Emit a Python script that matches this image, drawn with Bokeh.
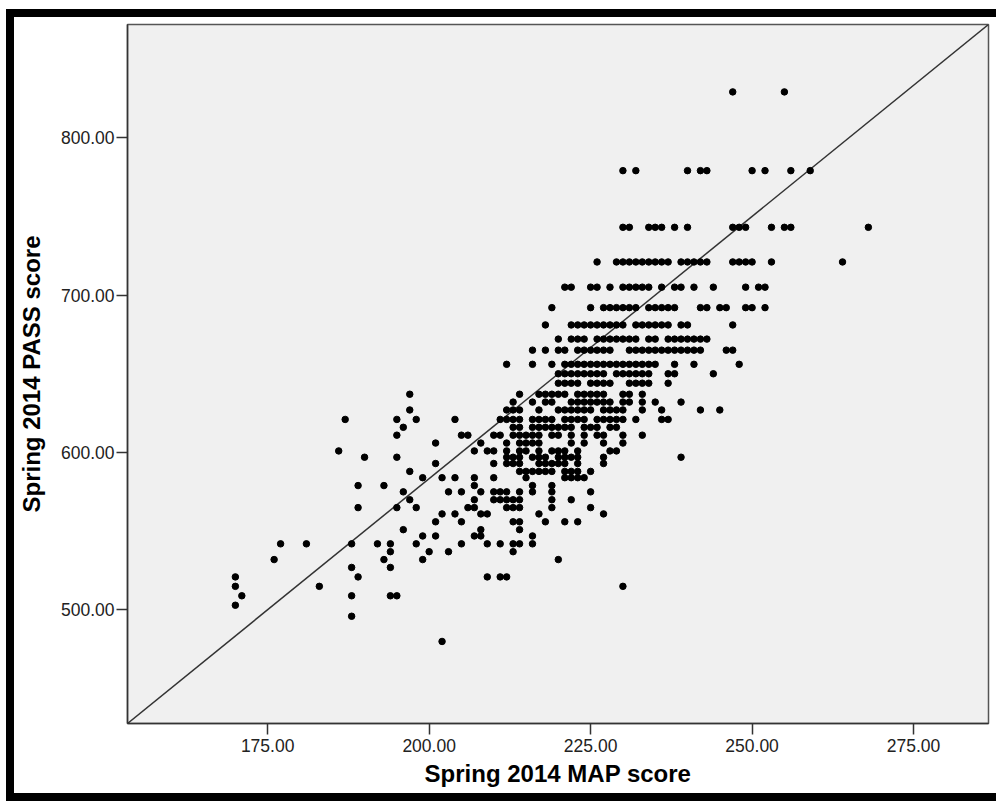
from bokeh.plotting import figure
from bokeh.models import FixedTicker, PrintfTickFormatter, Range1d
from bokeh.embed import file_html
from bokeh.resources import INLINE

# ---- data (MAP scores found at each discrete PASS score level) ----
x_title = "Spring 2014 MAP score"
y_title = "Spring 2014 PASS score"
x_ticks = [175, 200, 225, 250, 275]
y_ticks = [500, 600, 700, 800]
x_limits = [153.3, 286.6]
y_limits = [427.9, 871.8]

pass_levels = [829, 779, 743, 721, 705, 692, 681, 672, 665, 656, 650, 644, 637,
               632, 627, 621, 616, 611, 606, 601, 597, 593, 588, 584, 579, 575,
               570, 565, 561, 556, 551, 547, 542, 537, 532, 527, 521, 515, 509,
               503, 496, 480]

map_829 = [247, 255]
map_779 = [230, 232, 240, 242, 243, 250, 252, 256, 259]
map_743 = [230, 231, 234, 235, 236, 238, 240, 247, 248, 249, 253, 255, 256, 268]
map_721 = [226, 229, 230, 231, 232, 233, 234, 235, 236, 237, 239, 240, 241, 242,
           243, 247, 248, 249, 250, 253, 264]
map_705 = [221, 222, 225, 226, 228, 230, 231, 232, 233, 234, 236, 238, 239, 241,
           244, 249, 251, 252]
map_692 = [219, 225, 227, 228, 229, 230, 231, 232, 234, 235, 236, 237, 238, 242,
           243, 245, 246, 249, 250, 252]
map_681 = [218, 222, 223, 224, 225, 226, 227, 228, 229, 230, 232, 233, 234, 235,
           236, 237, 239, 240, 247]
map_672 = [220, 222, 223, 224, 226, 227, 228, 229, 230, 231, 232, 234, 235, 237,
           238, 239, 240, 241, 242, 243]
map_665 = [216, 218, 220, 221, 223, 224, 225, 226, 227, 228, 231, 232, 233, 234,
           235, 236, 237, 238, 239, 240, 241, 242, 246, 247]
map_656 = [212, 216, 219, 221, 222, 223, 224, 225, 226, 227, 228, 229, 230, 231,
           232, 233, 234, 235, 238, 241, 248]
map_650 = [220, 221, 222, 223, 224, 225, 226, 227, 229, 230, 231, 232, 233, 234,
           237, 238, 244]
map_644 = [220, 221, 222, 223, 225, 226, 227, 228, 231, 232, 233, 234, 237]
map_637 = [197, 214, 217, 218, 219, 220, 221, 223, 224, 225, 226, 227, 230, 231, 233]
map_632 = [213, 216, 218, 219, 222, 223, 224, 225, 226, 227, 228, 230, 231, 233,
           235, 239]
map_627 = [197, 212, 213, 214, 217, 220, 221, 222, 223, 224, 225, 227, 228, 229,
           230, 233, 236, 242, 245]
map_621 = [187, 195, 198, 204, 211, 212, 213, 214, 216, 217, 218, 219, 221, 222,
           223, 224, 226, 227, 228, 229, 230, 232, 236, 237]
map_616 = [196, 213, 214, 216, 217, 218, 219, 220, 221, 222, 224, 225, 226, 228, 229]
map_611 = [195, 205, 206, 210, 211, 213, 214, 215, 216, 217, 219, 220, 222, 224,
           226, 227, 230, 233]
map_606 = [201, 208, 212, 214, 215, 216, 217, 222, 224, 227, 230]
map_601 = [186, 207, 209, 210, 212, 214, 215, 217, 219, 220, 221, 223, 228, 229]
map_597 = [190, 195, 212, 213, 214, 216, 217, 218, 220, 221, 222, 223, 227, 239]
map_593 = [201, 210, 212, 213, 214, 217, 218, 219, 220, 221, 223, 227]
map_588 = [197, 214, 215, 216, 217, 218, 219, 221, 222, 223, 225]
map_584 = [199, 202, 204, 207, 210, 215, 221, 222, 223, 224]
map_579 = [189, 193, 207, 216, 219]
map_575 = [196, 203, 205, 208, 210, 211, 212, 214, 216, 219, 225]
map_570 = [197, 207, 210, 211, 212, 213, 214, 219, 222]
map_565 = [189, 195, 198, 206, 207, 212, 213, 214, 219, 225]
map_561 = [202, 204, 208, 209, 217, 227]
map_556 = [201, 205, 213, 214, 218, 221, 223]
map_551 = [196, 208, 214]
map_547 = [199, 201, 207, 208, 216]
map_542 = [177, 181, 188, 192, 194, 198, 205, 209, 211, 213, 214, 216]
map_537 = [194, 200, 203, 213]
map_532 = [176, 193, 199, 220]
map_527 = [188, 194]
map_521 = [170, 189, 209, 211, 212]
map_515 = [170, 183, 230]
map_509 = [171, 188, 194, 195]
map_503 = [170]
map_496 = [188]
map_480 = [202]

map_rows = [map_829, map_779, map_743, map_721, map_705, map_692, map_681, map_672,
            map_665, map_656, map_650, map_644, map_637, map_632, map_627, map_621,
            map_616, map_611, map_606, map_601, map_597, map_593, map_588, map_584,
            map_579, map_575, map_570, map_565, map_561, map_556, map_551, map_547,
            map_542, map_537, map_532, map_527, map_521, map_515, map_509, map_503,
            map_496, map_480]

xs, ys = [], []
for level, row in zip(pass_levels, map_rows):
    xs.extend(row)
    ys.extend([level] * len(row))

FONT = "Liberation Sans"

p = figure(width=990, height=792, output_backend="svg", toolbar_location=None,
           x_range=Range1d(*x_limits), y_range=Range1d(*y_limits),
           min_border_left=112, min_border_right=16, min_border_top=7,
           min_border_bottom=86)
# thick black picture frame (top, left and bottom), as in the reference image
p.styles = {"margin-left": "6px", "margin-top": "9px",
            "border-top": "8px solid black", "border-left": "8px solid black",
            "border-bottom": "8px solid black"}

p.background_fill_color = "#f0f0f0"
p.border_fill_color = "white"
p.outline_line_color = "#555555"
p.outline_line_width = 1.5
p.xgrid.visible = False
p.ygrid.visible = False

for ax in (p.xaxis[0], p.yaxis[0]):
    ax.axis_line_color = "#333333"
    ax.axis_line_width = 1.5
    ax.major_tick_line_color = "#333333"
    ax.major_tick_line_width = 1.5
    ax.major_tick_in = 0
    ax.major_tick_out = 11
    ax.minor_tick_in = 0
    ax.minor_tick_out = 0
    ax.major_label_text_font = FONT
    ax.major_label_text_font_size = "17.5px"
    ax.major_label_text_color = "#222222"
    ax.axis_label_text_font = FONT
    ax.axis_label_text_font_size = "24px"
    ax.axis_label_text_font_style = "bold"
    ax.axis_label_text_color = "black"
    ax.formatter = PrintfTickFormatter(format="%.2f")

p.xaxis.ticker = FixedTicker(ticks=x_ticks)
p.yaxis.ticker = FixedTicker(ticks=y_ticks)
p.xaxis.axis_label = x_title
p.yaxis.axis_label = y_title
p.xaxis.major_label_standoff = 4
p.yaxis.major_label_standoff = 2
p.xaxis.axis_label_standoff = 5
p.yaxis.axis_label_standoff = 13

p.line(x_limits, y_limits, line_color="#333333", line_width=1.5)
p.scatter(xs, ys, size=6.5, color="black")

open("out.html", "w").write(file_html(p, INLINE))
